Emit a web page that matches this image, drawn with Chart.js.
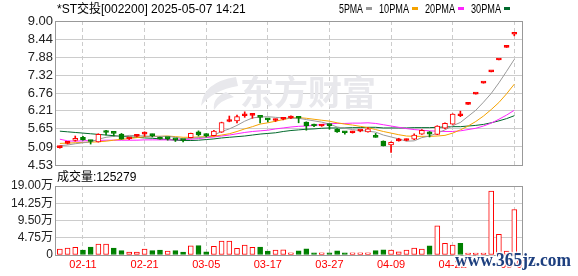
<!DOCTYPE html>
<html>
<head>
<meta charset="utf-8">
<script src="https://cdn.jsdelivr.net/npm/chart.js@4.4.1/dist/chart.umd.min.js"></script>
<style>
  html, body { margin: 0; padding: 0; background: #fff; }
  #wrap { position: relative; width: 578px; height: 276px; overflow: hidden; background: #fff; }
  #wrap canvas { position: absolute; left: 0; top: 0; }
</style>
</head>
<body>
<div id="wrap">
  <canvas id="kline" width="578" height="276"></canvas>
  <canvas id="volume" width="578" height="276"></canvas>
</div>
<script>
// daily bars
const dates = [
  "02-06", "02-07", "02-10", "02-11", "02-12", "02-13", "02-14", "02-17", "02-18", "02-19",
  "02-20", "02-21", "02-24", "02-25", "02-26", "02-27", "02-28", "03-03", "03-04", "03-05",
  "03-06", "03-07", "03-10", "03-11", "03-12", "03-13", "03-14", "03-17", "03-18", "03-19",
  "03-20", "03-21", "03-24", "03-25", "03-26", "03-27", "03-28", "03-31", "04-01", "04-02",
  "04-03", "04-07", "04-08", "04-09", "04-10", "04-11", "04-14", "04-15", "04-16", "04-17",
  "04-21", "04-22", "04-23", "04-24", "04-25", "04-28", "04-29", "04-30", "05-06", "05-07",
];
const opens = [
  5.07, 5.20, 5.29, 5.39, 5.28, 5.25, 5.55, 5.53, 5.49, 5.34,
  5.42, 5.49, 5.46, 5.38, 5.36, 5.33, 5.30, 5.38, 5.56, 5.49,
  5.44, 5.55, 5.88, 5.90, 6.06, 6.07, 6.02, 5.94, 5.91, 5.95,
  5.99, 5.99, 5.86, 5.77, 5.74, 5.78, 5.64, 5.54, 5.53, 5.58,
  5.56, 5.40, 5.27, 5.15, 5.28, 5.29, 5.33, 5.49, 5.56, 5.48,
  5.67, 5.80, 6.06, 6.41, 6.73, 7.07, 7.42, 7.79, 8.18, 8.59,
];
const highs = [
  5.12, 5.26, 5.43, 5.42, 5.30, 5.50, 5.61, 5.53, 5.51, 5.39,
  5.48, 5.56, 5.49, 5.40, 5.38, 5.34, 5.31, 5.52, 5.59, 5.50,
  5.61, 5.86, 6.05, 6.08, 6.18, 6.13, 6.02, 5.98, 5.96, 5.99,
  6.06, 6.03, 5.87, 5.80, 5.78, 5.80, 5.66, 5.57, 5.58, 5.61,
  5.69, 5.51, 5.28, 5.25, 5.36, 5.34, 5.50, 5.63, 5.57, 5.75,
  5.84, 6.12, 6.20, 6.41, 6.73, 7.07, 7.42, 7.79, 8.18, 8.59,
];
const lows = [
  5.05, 5.18, 5.27, 5.30, 5.18, 5.24, 5.46, 5.43, 5.33, 5.32,
  5.40, 5.42, 5.40, 5.33, 5.30, 5.26, 5.25, 5.37, 5.43, 5.40,
  5.43, 5.54, 5.87, 5.84, 6.01, 5.98, 5.84, 5.87, 5.88, 5.93,
  5.97, 5.84, 5.61, 5.72, 5.73, 5.64, 5.54, 5.49, 5.52, 5.56,
  5.55, 5.39, 5.12, 4.92, 5.27, 5.28, 5.32, 5.48, 5.40, 5.47,
  5.66, 5.79, 6.03, 6.41, 6.73, 7.07, 7.42, 7.79, 8.18, 8.54,
];
const closes = [
  5.10, 5.23, 5.36, 5.31, 5.26, 5.48, 5.54, 5.51, 5.33, 5.37,
  5.45, 5.51, 5.44, 5.33, 5.35, 5.31, 5.29, 5.51, 5.46, 5.44,
  5.58, 5.85, 5.92, 6.03, 6.07, 6.09, 6.01, 5.93, 5.95, 5.97,
  6.05, 5.98, 5.75, 5.74, 5.76, 5.75, 5.56, 5.53, 5.57, 5.59,
  5.65, 5.39, 5.12, 5.23, 5.30, 5.31, 5.46, 5.61, 5.49, 5.74,
  5.82, 6.11, 6.10, 6.41, 6.73, 7.07, 7.42, 7.79, 8.18, 8.59,
];
const volumes = [
  16500, 19000, 21000, 13800, 22000, 30000, 30000, 19000, 12000, 8300,
  8300, 16500, 12000, 13800, 11000, 12000, 8300, 25000, 26000, 9000,
  24000, 38500, 38500, 18500, 27500, 21000, 22000, 11000, 13800, 14000,
  6000, 11500, 17000, 6000, 6000, 6000, 11500, 6000, 6000, 6000,
  6000, 12000, 14500, 13500, 9000, 13500, 19000, 16000, 25000, 80000,
  32000, 27000, 32000, 3000, 3000, 3000, 176000, 57000, 11000, 125279,
];

// moving averages as drawn (the window starts mid-history)
const ma5 = [
  5.13, 5.15, 5.19, 5.22, 5.25, 5.33, 5.39, 5.42, 5.42, 5.45,
  5.44, 5.43, 5.42, 5.42, 5.42, 5.39, 5.34, 5.36, 5.38, 5.40,
  5.46, 5.57, 5.65, 5.76, 5.89, 5.99, 6.02, 6.03, 6.01, 5.99,
  5.98, 5.98, 5.94, 5.90, 5.86, 5.80, 5.71, 5.67, 5.63, 5.60,
  5.58, 5.55, 5.46, 5.40, 5.34, 5.27, 5.28, 5.38, 5.43, 5.52,
  5.62, 5.75, 5.85, 6.04, 6.23, 6.48, 6.75, 7.08, 7.44, 7.81,
];
const ma10 = [
  5.20, 5.21, 5.22, 5.23, 5.24, 5.25, 5.27, 5.30, 5.33, 5.35,
  5.38, 5.41, 5.42, 5.42, 5.43, 5.41, 5.39, 5.39, 5.40, 5.41,
  5.42, 5.46, 5.50, 5.57, 5.65, 5.72, 5.80, 5.84, 5.89, 5.94,
  5.99, 6.00, 5.98, 5.95, 5.92, 5.89, 5.84, 5.80, 5.77, 5.73,
  5.69, 5.63, 5.57, 5.52, 5.47, 5.43, 5.42, 5.42, 5.42, 5.43,
  5.45, 5.52, 5.62, 5.74, 5.88, 6.05, 6.25, 6.47, 6.74, 7.04,
];
const ma20 = [
  5.33, 5.28, 5.27, 5.28, 5.29, 5.29, 5.30, 5.30, 5.30, 5.30,
  5.30, 5.31, 5.31, 5.31, 5.31, 5.31, 5.32, 5.33, 5.35, 5.38,
  5.40, 5.43, 5.46, 5.50, 5.54, 5.57, 5.59, 5.61, 5.65, 5.68,
  5.71, 5.73, 5.74, 5.76, 5.79, 5.81, 5.82, 5.82, 5.83, 5.83,
  5.84, 5.82, 5.78, 5.74, 5.70, 5.66, 5.63, 5.61, 5.59, 5.58,
  5.57, 5.57, 5.59, 5.63, 5.67, 5.74, 5.83, 5.95, 6.08, 6.23,
];
const ma30 = [
  5.58, 5.56, 5.54, 5.52, 5.50, 5.48, 5.46, 5.44, 5.42, 5.40,
  5.39, 5.37, 5.36, 5.34, 5.32, 5.30, 5.29, 5.29, 5.30, 5.32,
  5.34, 5.37, 5.39, 5.41, 5.43, 5.46, 5.49, 5.51, 5.53, 5.57,
  5.60, 5.62, 5.64, 5.65, 5.67, 5.68, 5.68, 5.68, 5.69, 5.69,
  5.70, 5.70, 5.68, 5.68, 5.68, 5.68, 5.69, 5.69, 5.69, 5.70,
  5.71, 5.72, 5.72, 5.74, 5.76, 5.79, 5.84, 5.90, 5.97, 6.06,
];

const maLabels = ["5PMA", "10PMA", "20PMA", "30PMA"];
const priceTicks = [4.53, 5.09, 5.65, 6.21, 6.76, 7.32, 7.88, 8.44, 9.00];
const volumeTicks = [0, 47500, 95000, 142500, 190000];
const volumeTickLabels = ["0", "4.75万", "9.50万", "14.25万", "19.00万"];
const dateTickIndex = [3, 11, 19, 27, 35, 43, 51, 59];
const titleText = "*ST交投[002200] 2025-05-07 14:21";

const UP = "#ff0000";
const DOWN = "#008000";
const GRID = "#cccccc";
const FRAME = "#999999";
const maColors = ["#999999", "#f5a300", "#ff22ff", "#00692c"];
const TEXT_FONT = "'Liberation Sans', 'Noto Sans CJK SC', sans-serif";

const candleUp = (i) => closes[i] >= opens[i];
// bodies thinner than ~2px read as solid dashes
const thinBody = (i) => Math.abs(closes[i] - opens[i]) < 0.07;
const dayUp = (i) => i === 0 || closes[i] >= closes[i - 1];
const xs = closes.map((c, i) => i);

function drawFrame(chart) {
  const a = chart.chartArea;
  const ctx = chart.ctx;
  ctx.save();
  ctx.strokeStyle = FRAME;
  ctx.lineWidth = 1;
  ctx.strokeRect(a.left - 0.5, a.top + 0.5, a.right - a.left + 1, a.bottom - a.top);
  ctx.restore();
}

const xScaleBase = {
  type: "linear",
  min: -0.5,
  max: 60,
  offset: false,
  afterBuildTicks: function (scale) {
    scale.ticks = dateTickIndex.map((v) => ({ value: v }));
  },
  grid: { color: GRID, drawTicks: false, offset: false },
  border: { display: false, dash: [4, 3] },
};

// price panel: candles + moving averages
const klineDecor = {
  id: "klineDecor",
  beforeDatasetsDraw: function (chart) {
    const ctx = chart.ctx;
    ctx.save();
    // light vendor watermark
    ctx.fillStyle = "#e8e8ec";
    ctx.beginPath();
    ctx.moveTo(236, 77);
    ctx.quadraticCurveTo(203, 82, 201, 106);
    ctx.quadraticCurveTo(213, 90, 238, 86);
    ctx.closePath();
    ctx.fill();
    ctx.beginPath();
    ctx.moveTo(226, 92);
    ctx.quadraticCurveTo(212, 98, 214, 110);
    ctx.quadraticCurveTo(220, 100, 234, 97);
    ctx.closePath();
    ctx.fill();
    ctx.font = "bold 34px 'Noto Sans CJK SC'";
    ctx.textBaseline = "middle";
    ctx.fillText("东方财富", 240, 92, 140);
    ctx.restore();
    drawFrame(chart);
  },
  afterDraw: function (chart) {
    const ctx = chart.ctx;
    ctx.save();
    ctx.textBaseline = "middle";
    ctx.fillStyle = "#000";
    ctx.font = "12px " + TEXT_FONT;
    ctx.fillText(titleText, 57, 9.5);

    let x = 339;
    maLabels.forEach(function (label, k) {
      const w = label.length * 6;
      ctx.fillStyle = "#000";
      ctx.fillText(label, x, 9.5, w);
      ctx.fillStyle = maColors[k];
      ctx.fillRect(x + w + 3, 7, 6, 3);
      x += w + 3 + 6 + 7;
    });
    ctx.restore();
  },
};

const maSeries = [ma5, ma10, ma20, ma30];
const maDatasets = maSeries.map(function (series, k) {
  return {
    type: "line",
    label: maLabels[k],
    data: series.map((v, i) => ({ x: i, y: v })),
    borderColor: maColors[k],
    borderWidth: 1,
    pointRadius: 0,
    tension: 0,
    fill: false,
    order: 3,
  };
});

new Chart(document.getElementById("kline"), {
  type: "bar",
  data: {
    datasets: maDatasets.concat([
      {
        label: "wick",
        data: xs.map((i) => ({ x: i, y: [lows[i], highs[i]] })),
        backgroundColor: (c) => (candleUp(c.dataIndex) ? UP : DOWN),
        barThickness: 1,
        minBarLength: 1,
        grouped: false,
        order: 2,
      },
      {
        label: "body",
        data: xs.map((i) => ({
          x: i,
          y: [Math.min(opens[i], closes[i]), Math.max(opens[i], closes[i])],
        })),
        backgroundColor: function (c) {
          const i = c.dataIndex;
          if (!candleUp(i)) return DOWN;
          return thinBody(i) ? UP : "#ffffff";
        },
        borderColor: (c) => (candleUp(c.dataIndex) ? UP : DOWN),
        borderWidth: 1,
        borderSkipped: false,
        barThickness: 5,
        minBarLength: 2,
        grouped: false,
        order: 1,
      },
    ]),
  },
  options: {
    responsive: false,
    animation: false,
    events: [],
    layout: { padding: { top: 21, right: 56, bottom: 111, left: 0 } },
    plugins: { legend: { display: false }, tooltip: { enabled: false } },
    scales: {
      x: Object.assign({}, xScaleBase, {
        ticks: { display: false },
        afterFit: function (scale) {
          scale.height = 0;
        },
      }),
      y: {
        min: 4.53,
        max: 9.0,
        afterBuildTicks: function (scale) {
          scale.ticks = priceTicks.map((v) => ({ value: v }));
        },
        afterFit: function (scale) {
          scale.width = 56;
        },
        ticks: {
          padding: 3,
          autoSkip: false,
          color: "#222",
          font: { family: "'Liberation Sans'", size: 13 },
          callback: (v) => Number(v).toFixed(2),
        },
        grid: { color: GRID, drawTicks: false },
        border: { display: false },
      },
    },
  },
  plugins: [klineDecor],
});

// volume panel
const volumeDecor = {
  id: "volumeDecor",
  beforeDatasetsDraw: function (chart) {
    drawFrame(chart);
  },
  afterDraw: function (chart) {
    const ctx = chart.ctx;
    ctx.save();
    ctx.textBaseline = "middle";
    ctx.fillStyle = "#000";
    ctx.font = "12px " + TEXT_FONT;
    ctx.fillText("成交量:" + volumes[volumes.length - 1], 57, 177.5);

    // site watermark over the lower right corner
    ctx.font = "bold 19px 'Liberation Serif'";
    ctx.textBaseline = "alphabetic";
    ctx.lineWidth = 3;
    ctx.strokeStyle = "rgba(255,255,255,0.85)";
    ctx.strokeText("www.365jz.com", 455, 266, 116);
    ctx.fillStyle = "#1d3f7f";
    ctx.fillText("www.365jz.com", 455, 266, 116);
    ctx.restore();
  },
};

new Chart(document.getElementById("volume"), {
  type: "bar",
  data: {
    datasets: [
      {
        label: "成交量",
        data: xs.map((i) => ({ x: i, y: volumes[i] })),
        backgroundColor: (c) => (dayUp(c.dataIndex) ? "#ffffff" : DOWN),
        borderColor: (c) => (dayUp(c.dataIndex) ? UP : DOWN),
        borderWidth: 1,
        borderSkipped: false,
        barThickness: 5,
        minBarLength: 2,
        grouped: false,
      },
    ],
  },
  options: {
    responsive: false,
    animation: false,
    events: [],
    layout: { padding: { top: 186, right: 56, bottom: 0, left: 0 } },
    plugins: { legend: { display: false }, tooltip: { enabled: false } },
    scales: {
      x: Object.assign({}, xScaleBase, {
        ticks: {
          padding: 3,
          maxRotation: 0,
          autoSkip: false,
          color: UP,
          font: { family: "'Liberation Sans'", size: 11 },
          callback: (v) => dates[v],
        },
        afterFit: function (scale) {
          scale.height = 21;
        },
      }),
      y: {
        min: 0,
        max: 190000,
        afterBuildTicks: function (scale) {
          scale.ticks = volumeTicks.map((v) => ({ value: v }));
        },
        afterFit: function (scale) {
          scale.width = 56;
        },
        ticks: {
          padding: 3,
          autoSkip: false,
          color: "#222",
          font: { family: TEXT_FONT, size: 12 },
          callback: function (v) {
            return volumeTickLabels[volumeTicks.indexOf(v)];
          },
        },
        grid: { color: GRID, drawTicks: false },
        border: { display: false },
      },
    },
  },
  plugins: [volumeDecor],
});
</script>
</body>
</html>
